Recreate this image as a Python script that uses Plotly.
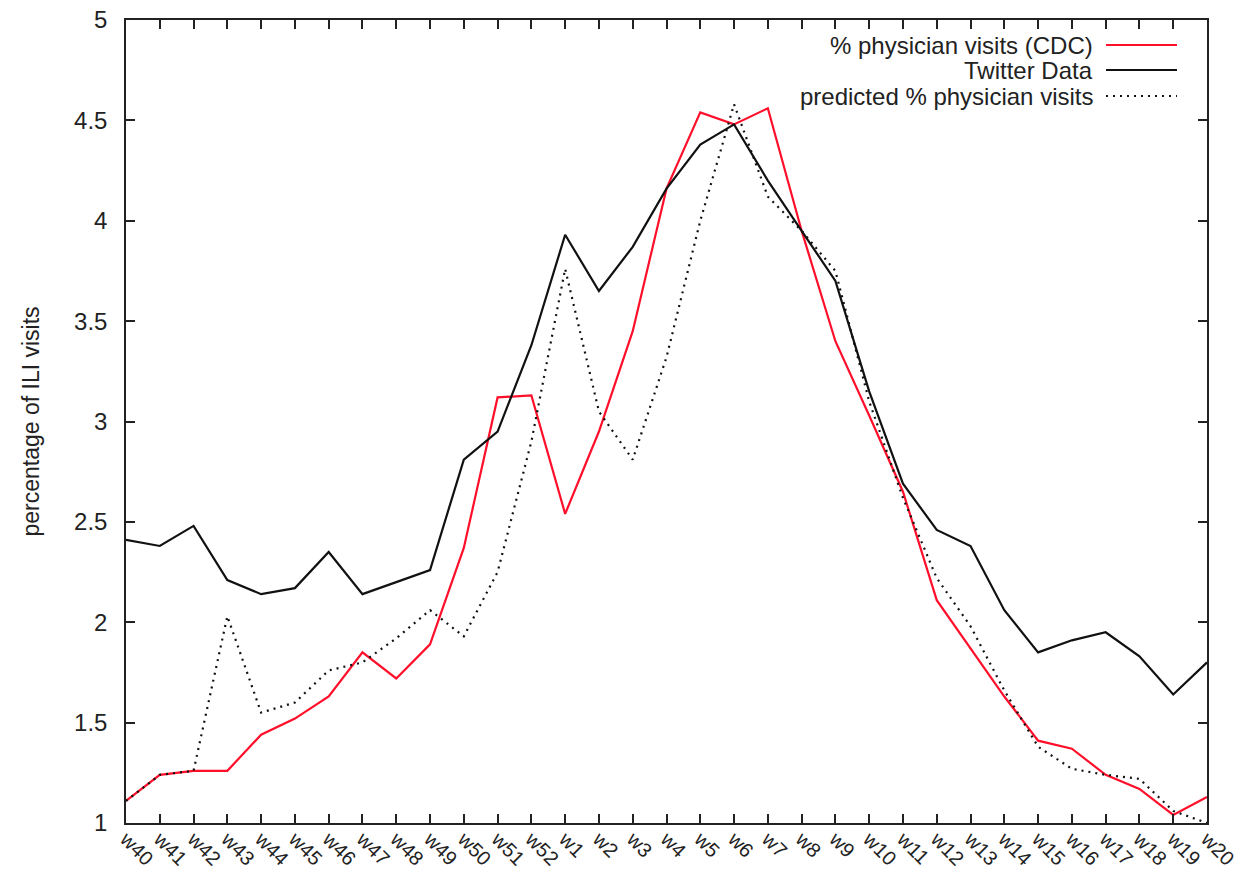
import plotly.graph_objects as go

weeks = ["w40", "w41", "w42", "w43", "w44", "w45", "w46", "w47", "w48", "w49", "w50", "w51", "w52",
         "w1", "w2", "w3", "w4", "w5", "w6", "w7", "w8", "w9", "w10", "w11", "w12", "w13", "w14",
         "w15", "w16", "w17", "w18", "w19", "w20"]

cdc_visits = [1.11, 1.24, 1.26, 1.26, 1.44, 1.52, 1.63, 1.85, 1.72, 1.89, 2.37, 3.12, 3.13,
              2.54, 2.95, 3.45, 4.16, 4.54, 4.48, 4.56, 3.95, 3.40, 3.03, 2.65, 2.11, 1.87, 1.63,
              1.41, 1.37, 1.24, 1.17, 1.04, 1.13]

twitter_data = [2.41, 2.38, 2.48, 2.21, 2.14, 2.17, 2.35, 2.14, 2.20, 2.26, 2.81, 2.95, 3.38,
                3.93, 3.65, 3.87, 4.16, 4.38, 4.48, 4.20, 3.95, 3.70, 3.15, 2.69, 2.46, 2.38, 2.06,
                1.85, 1.91, 1.95, 1.83, 1.64, 1.80]

predicted_visits = [1.11, 1.24, 1.26, 2.03, 1.55, 1.60, 1.76, 1.80, 1.92, 2.06, 1.93, 2.25, 2.90,
                    3.76, 3.05, 2.81, 3.32, 4.00, 4.58, 4.12, 3.95, 3.75, 3.10, 2.62, 2.22, 1.98, 1.66,
                    1.38, 1.27, 1.24, 1.22, 1.06, 1.00]

legend_labels = ["% physician visits (CDC)", "Twitter Data", "predicted % physician visits"]

RED = "#ff0f2a"
BLACK = "#111111"
TXT = "#222222"
FONT = "Liberation Sans, Arial, sans-serif"

fig = go.Figure()
fig.add_trace(go.Scatter(x=weeks, y=cdc_visits, mode="lines", name=legend_labels[0],
                         line=dict(color=RED, width=2.2)))
fig.add_trace(go.Scatter(x=weeks, y=twitter_data, mode="lines", name=legend_labels[1],
                         line=dict(color=BLACK, width=2.2)))
fig.add_trace(go.Scatter(x=weeks, y=predicted_visits, mode="lines", name=legend_labels[2],
                         line=dict(color=BLACK, width=2.2, dash="2px,5px")))

# gnuplot-style legend: text right-aligned, sample line to its right
leg_rows = [(legend_labels[0], dict(color=RED, width=2.2)),
            (legend_labels[1], dict(color=BLACK, width=2.2)),
            (legend_labels[2], dict(color=BLACK, width=2.2, dash="2px,5px"))]
W, H = 1241, 875
ml, mr, mt, mb = 126, 34, 20, 52
pw, ph = W - ml - mr, H - mt - mb
def px_to_paper(x, y):
    return (x - ml) / pw, 1 - (y - mt) / ph
row_y = [45, 70, 96]
for (label, ln), yy in zip(leg_rows, row_y):
    tx, ty = px_to_paper(1094, yy)
    fig.add_annotation(x=tx, y=ty, xref="paper", yref="paper", text=label, showarrow=False,
                       xanchor="right", yanchor="middle", borderpad=0,
                       font=dict(family=FONT, size=24, color=TXT))
    x0, y0 = px_to_paper(1106, yy)
    x1, _ = px_to_paper(1177, yy)
    fig.add_shape(type="line", xref="paper", yref="paper", x0=x0, x1=x1, y0=y0, y1=y0, line=ln)

fig.update_layout(
    width=W, height=H,
    margin=dict(l=ml, r=mr, t=mt, b=mb, autoexpand=False),
    plot_bgcolor="white", paper_bgcolor="white",
    showlegend=False,
    font=dict(family=FONT, size=24, color=TXT),
)
fig.update_xaxes(type="category", categoryorder="array", categoryarray=weeks,
                 range=[0, len(weeks) - 1], tickangle=45,
                 showline=True, linecolor=TXT, linewidth=1.5, mirror="ticks",
                 ticks="inside", ticklen=9, tickwidth=1.5, tickcolor=TXT,
                 showgrid=False, zeroline=False, automargin=False,
                 ticklabelstandoff=-5,
                 tickfont=dict(family=FONT, size=20, color=TXT))
fig.update_yaxes(range=[1, 5], dtick=0.5, tick0=1,
                 showline=True, linecolor=TXT, linewidth=1.5, mirror="ticks",
                 ticks="inside", ticklen=9, tickwidth=1.5, tickcolor=TXT,
                 showgrid=False, zeroline=False, automargin=False,
                 ticklabelstandoff=12,
                 title=dict(text="percentage of ILI visits", font=dict(family=FONT, size=23, color=TXT),
                            standoff=28),
                 tickfont=dict(family=FONT, size=24, color=TXT))

fig.write_html("out.html", config={"displayModeBar": False},
               post_script="document.body.style.margin='0';document.body.style.overflow='hidden';")
